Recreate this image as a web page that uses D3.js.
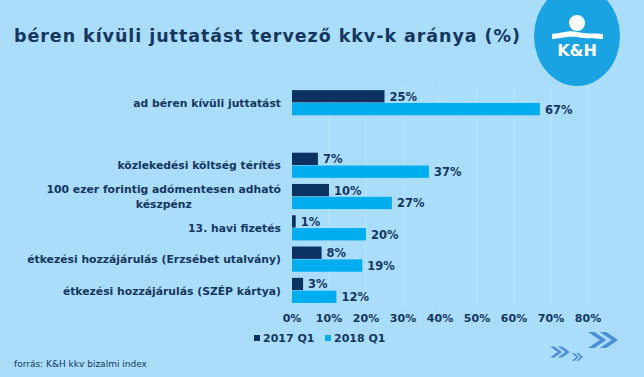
<!DOCTYPE html>
<html lang="hu">
<head>
<meta charset="UTF-8">
<title>béren kívüli juttatást tervező kkv-k aránya</title>
<script src="https://cdn.jsdelivr.net/npm/d3@7"></script>
<style>
  html, body { margin: 0; padding: 0; background: #a9ddf9; }
  svg { display: block; font-family: "DejaVu Sans", Verdana, sans-serif; }
</style>
</head>
<body>
<svg id="chart" width="644" height="377"></svg>
<script>
// categories (an empty slot separates the total from the details)
const categories = [
  "ad béren kívüli juttatást",
  "",
  "közlekedési költség térítés",
  "100 ezer forintig adómentesen adható|készpénz",
  "13. havi fizetés",
  "étkezési hozzájárulás (Erzsébet utalvány)",
  "étkezési hozzájárulás (SZÉP kártya)"
];
const seriesNames = ["2017 Q1", "2018 Q1"];
const values2017 = [25, null, 7, 10, 1, 8, 3];
const values2018 = [67, null, 37, 27, 20, 19, 12];
const ticks = [0, 10, 20, 30, 40, 50, 60, 70, 80];
const colors = ["#0c3262", "#00adef"];
const textColor = "#16365f";

const width = 644, height = 377;
const svg = d3.select("#chart");

svg.append("rect").attr("width", width).attr("height", height).attr("fill", "#a9ddf9");

const x = d3.scaleLinear().domain([0, 80]).range([292, 588]);
const y = d3.scaleBand().domain(d3.range(categories.length))
    .range([87, 306.6]).paddingInner(0.18).paddingOuter(0.1);
const ySub = d3.scaleBand().domain(seriesNames).range([0, y.bandwidth()]);

// gridlines
svg.append("g")
    .selectAll("line")
    .data(ticks.slice(1))
    .join("line")
    .attr("x1", d => x(d)).attr("x2", d => x(d))
    .attr("y1", 86).attr("y2", 306)
    .attr("stroke", "#bae4fb").attr("stroke-width", 1);

// title
svg.append("text")
    .attr("x", 14).attr("y", 42)
    .attr("fill", textColor)
    .attr("font-weight", "bold")
    .attr("font-size", 17.5)
    .attr("textLength", 506)
    .text("béren kívüli juttatást tervező kkv-k aránya (%)");

// bars
const rows = categories.map((c, i) => ({i, c, vals: [values2017[i], values2018[i]]}));
const row = svg.append("g")
    .selectAll("g")
    .data(rows.filter(d => d.c !== ""))
    .join("g")
    .attr("transform", d => `translate(0,${y(d.i)})`);

row.selectAll("rect")
    .data(d => d.vals.map((v, k) => ({v, k})))
    .join("rect")
    .attr("x", x(0))
    .attr("y", d => ySub(seriesNames[d.k]))
    .attr("width", d => x(d.v) - x(0))
    .attr("height", ySub.bandwidth() - 0.5)
    .attr("fill", d => colors[d.k]);

row.selectAll("text.val")
    .data(d => d.vals.map((v, k) => ({v, k})))
    .join("text")
    .attr("class", "val")
    .attr("x", d => x(d.v) + 5)
    .attr("y", d => ySub(seriesNames[d.k]) + ySub.bandwidth() / 2)
    .attr("dy", "0.36em")
    .attr("fill", textColor)
    .attr("font-weight", "bold")
    .attr("font-size", 11.5)
    .text(d => d.v + "%");

// category labels; a wrapped second line is centred under the first
const labelRight = 281;
row.each(function (d) {
    const g = d3.select(this);
    const lines = d.c.split("|");
    let firstWidth = 0;
    lines.forEach((ln, j) => {
        const t = g.append("text")
            .attr("y", y.bandwidth() / 2 + (j - (lines.length - 1) / 2) * 15)
            .attr("dy", "0.36em")
            .attr("fill", textColor)
            .attr("font-weight", "bold")
            .attr("font-size", 10.8)
            .text(ln);
        if (j === 0) {
            t.attr("x", labelRight).attr("text-anchor", "end");
            firstWidth = t.node().getComputedTextLength();
        } else {
            t.attr("x", labelRight - firstWidth / 2).attr("text-anchor", "middle");
        }
    });
});

// x axis labels
svg.append("g")
    .selectAll("text")
    .data(ticks)
    .join("text")
    .attr("x", d => x(d))
    .attr("y", 322)
    .attr("text-anchor", "middle")
    .attr("fill", textColor)
    .attr("font-weight", "bold")
    .attr("font-size", 11)
    .text(d => d + "%");

// legend
const legend = svg.append("g")
    .selectAll("g")
    .data(seriesNames)
    .join("g")
    .attr("transform", (d, i) => `translate(${254 + i * 71},342)`);
legend.append("rect")
    .attr("x", 0).attr("y", -7).attr("width", 6).attr("height", 6)
    .attr("fill", (d, i) => colors[i]);
legend.append("text")
    .attr("x", 9).attr("y", 0)
    .attr("fill", textColor)
    .attr("font-weight", "bold")
    .attr("font-size", 11)
    .text(d => d);

// source
svg.append("text")
    .attr("x", 14).attr("y", 367)
    .attr("fill", textColor)
    .attr("font-size", 9)
    .text("forrás: K&H kkv bizalmi index");

// K&H logo
const logo = svg.append("g").attr("transform", "translate(577,36)");
logo.append("ellipse").attr("rx", 43).attr("ry", 50).attr("fill", "#19a3e3");
logo.append("circle").attr("cx", 0).attr("cy", -13).attr("r", 8).attr("fill", "#fff");
logo.append("path")
    .attr("d", "M-25,3 L-25,-2 C-14,-3 -8,-6 0,-4 C8,-2 16,-3 26,-2 L26,3 C16,2 8,3 0,1 C-8,0 -14,2 -25,3 Z")
    .attr("fill", "#fff");
logo.append("text")
    .attr("y", 20)
    .attr("text-anchor", "middle")
    .attr("fill", "#fff")
    .attr("font-weight", "bold")
    .attr("font-size", 16)
    .text("K&H");

// chevrons: left x, centre y, half height, chevron width
const chevron = (x0, cy, h, w) => {
    const p = d3.path(), t = 0.55 * w;
    for (const off of [0, w]) {
        p.moveTo(x0 + off, cy - h);
        p.lineTo(x0 + off + t, cy - h);
        p.lineTo(x0 + off + t + w, cy);
        p.lineTo(x0 + off + t, cy + h);
        p.lineTo(x0 + off, cy + h);
        p.lineTo(x0 + off + w, cy);
        p.closePath();
    }
    return p.toString();
};
svg.append("g").attr("fill", "#4b8fd6")
    .selectAll("path")
    .data([[550, 352, 5.5, 7.8], [572, 357, 4, 4.3], [588, 340, 8, 11.8]])
    .join("path")
    .attr("d", d => chevron(d[0], d[1], d[2], d[3]));
</script>
</body>
</html>
